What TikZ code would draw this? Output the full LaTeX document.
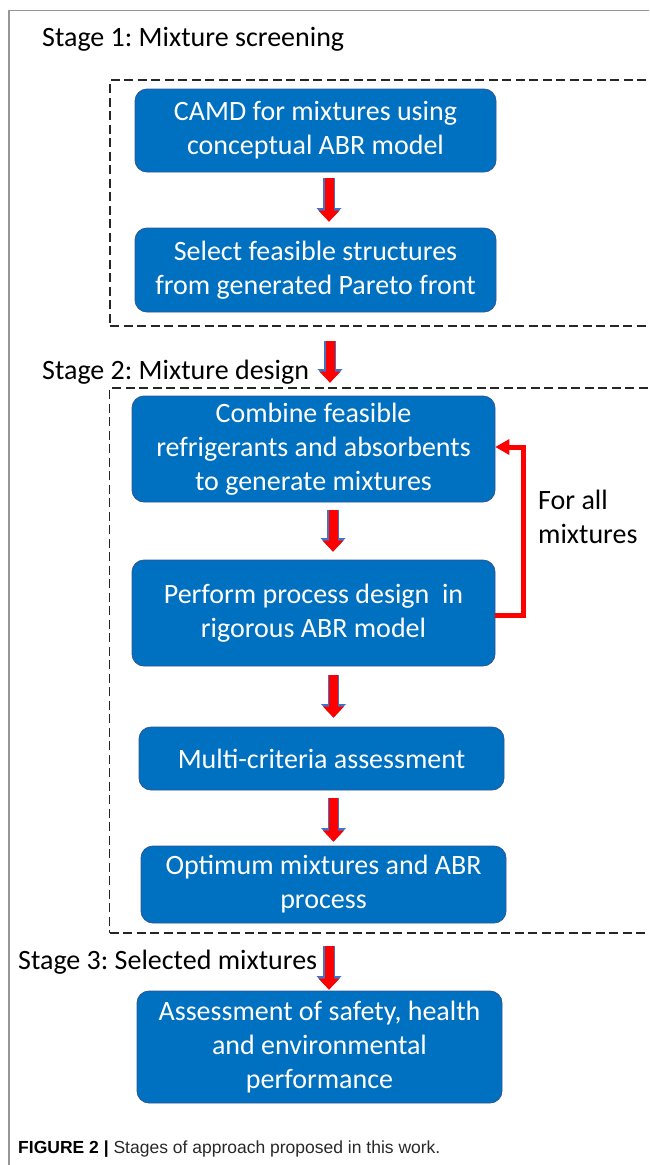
\documentclass[tikz,border=0pt]{standalone}
\usepackage{fontspec}
\setmainfont{Carlito}
\newfontfamily\captionfont{Liberation Sans}
\usetikzlibrary{arrows.meta,calc}
\frenchspacing

\definecolor{boxblue}{RGB}{0,112,192}
\definecolor{boxedge}{RGB}{47,85,151}
\definecolor{arrowedge}{RGB}{68,114,196}
\definecolor{framegray}{RGB}{150,150,150}
\definecolor{captiongray}{RGB}{40,40,40}

\begin{document}
\begin{tikzpicture}[x=1pt,y=-1pt]
\tikzset{
  stepbox/.style={rectangle,rounded corners=12pt,draw=boxedge,line width=0.8pt,fill=boxblue,text=white,align=center,inner sep=2pt,font=\fontsize{28}{34}\selectfont},
  stageframe/.style={draw=black!85,dash pattern=on 9pt off 4.5pt,line width=1.3pt,minimum width=550pt,inner sep=0pt},
  stagelabel/.style={anchor=base west,inner sep=0pt,font=\fontsize{28}{34}\selectfont},
  blockarrow/.style={draw=red,line width=9pt,-{Triangle[length=11pt,width=21pt,line width=0pt]},
    preaction={draw=arrowedge,line width=11.5pt,-{Triangle[length=13.5pt,width=25pt,line width=0pt]}}},
  loopback/.style={draw=red,line width=5pt,-{Triangle[length=14pt,width=16pt,line width=0pt]}}
}
\clip (0,0) rectangle (649,1165);
\draw[framegray,line width=1.5pt] (9,1165) -- (9,10.5) -- (649,10.5);

% stage 1
\node[stagelabel] (stage_a) at (42,46) {Stage 1: Mixture screening};
\node[stageframe,minimum height=246pt] (frame_a) at (385,203) {};
\node[stepbox,minimum width=361pt,minimum height=83pt] (camd) at (315.5,130.5) {CAMD for mixtures using\\conceptual ABR model};
\node[stepbox,minimum width=361pt,minimum height=84pt] (select) at (315.5,270) {Select feasible structures\\from generated Pareto front};

% stage 2
\node[stagelabel] (stage_b) at (42,379) {Stage 2: Mixture design};
\node[stageframe,minimum height=545pt] (frame_b) at (384.5,660.5) {};
\node[stepbox,minimum width=363pt,minimum height=106pt] (combine) at (313.5,449) {Combine feasible\\refrigerants and absorbents\\to generate mixtures};
\node[stepbox,minimum width=363pt,minimum height=106pt] (perform) at (313.5,613) {Perform process design\ \ in\\rigorous ABR model};
\node[stepbox,minimum width=365pt,minimum height=63pt] (multi) at (321.5,758.5) {Multi-criteria assessment};
\node[stepbox,minimum width=365pt,minimum height=77pt] (optimum) at (323.5,884.5) {Optimum mixtures and ABR\\process};
\node[anchor=base west,inner sep=0pt,align=left,font=\fontsize{28}{34}\selectfont] (forall) at (538,543) {For all\\mixtures};

% stage 3
\node[stagelabel] (stage_c) at (18,969) {Stage 3: Selected mixtures};
\node[stepbox,minimum width=365pt,minimum height=112pt] (assess) at (319.5,1047) {Assessment of safety, health\\and environmental\\performance};

% arrows
\draw[blockarrow] ($(camd.south)+(13.5,6)$) -- ($(select.north)+(13.5,-6)$);
\draw[blockarrow] ($(combine.north |- frame_a.south)+(16.5,14)$) -- ($(combine.north)+(16.5,-13)$);
\draw[blockarrow] ($(combine.south)+(19.5,8)$) -- ($(perform.north)+(19.5,-8)$);
\draw[blockarrow] ($(perform.south)+(20,9)$) -- ($(perform.south |- multi.north)+(20,-9)$);
\draw[blockarrow] ($(multi.south)+(12,8)$) -- ($(multi.south |- optimum.north)+(12,-4)$);
\draw[blockarrow] ($(assess.north |- frame_b.south)+(9.5,12)$) -- ($(assess.north)+(9.5,-1)$);
\draw[loopback] ($(perform.east)+(0,2)$) -- ++(28,0) |- ($(combine.east)+(0,-2)$);

\node[anchor=base west,inner sep=0pt,text=captiongray,font=\captionfont\fontsize{17.5}{20}\selectfont] (caption) at (18,1153) {\textbf{\color{black}FIGURE 2 |} Stages of approach proposed in this work.};
\end{tikzpicture}
\end{document}
